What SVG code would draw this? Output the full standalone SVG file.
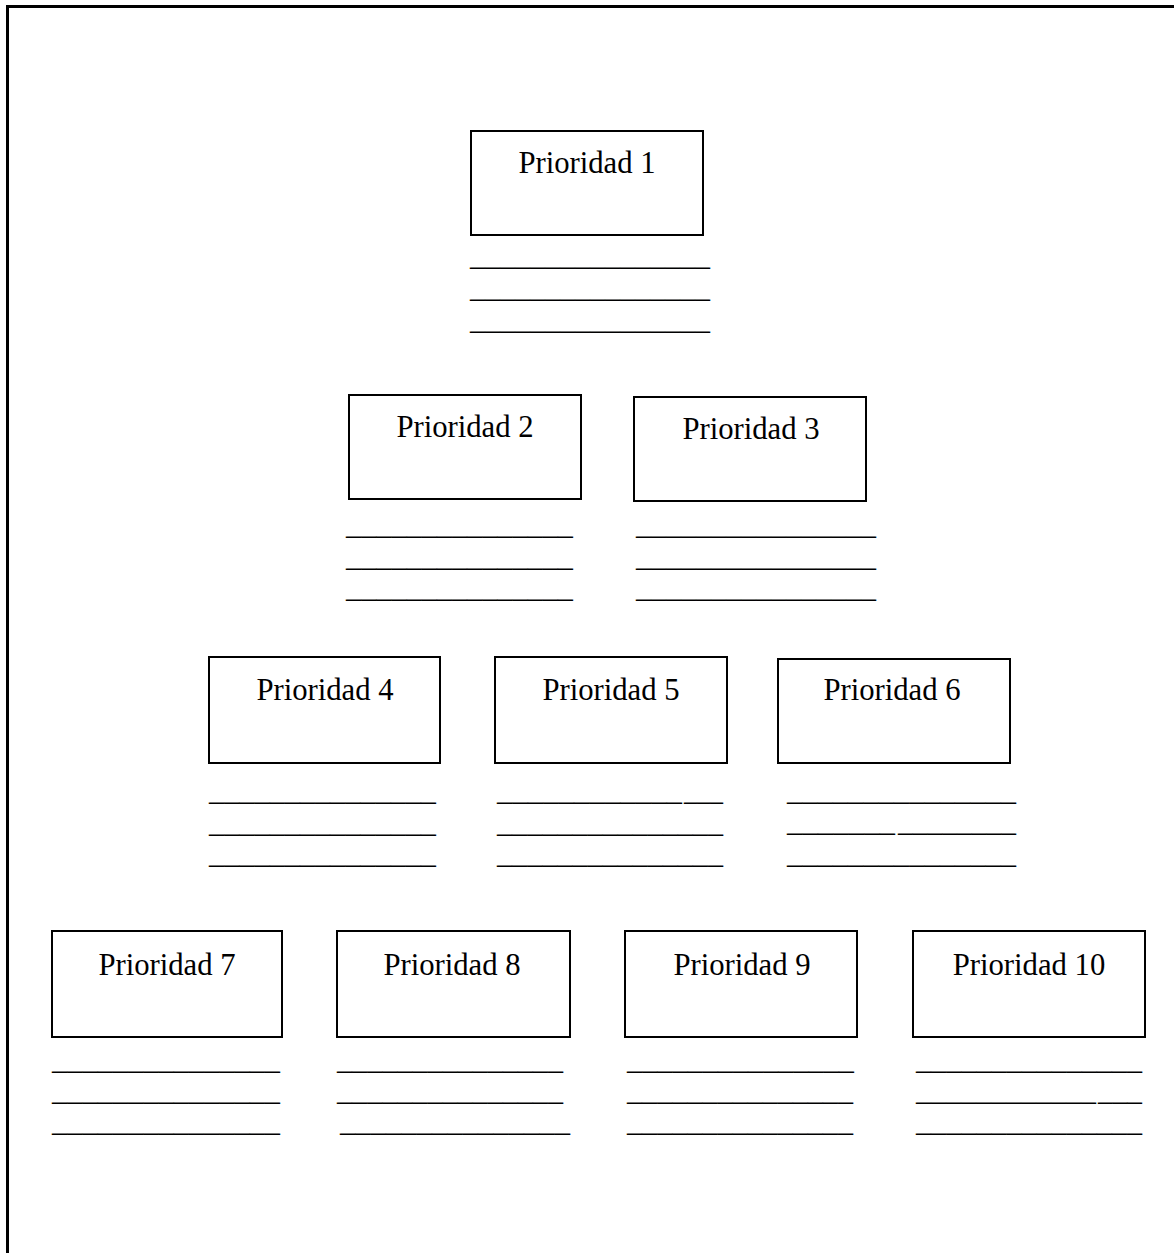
<svg xmlns="http://www.w3.org/2000/svg" width="1174" height="1253" viewBox="0 0 1174 1253">
<style>
.box{fill:#fff;stroke:#000;stroke-width:2}
.lbl{font-family:"Liberation Serif","Times New Roman",serif;font-size:30.7px;fill:#000;text-anchor:middle}
.ln{font-family:"Liberation Serif","Times New Roman",serif;font-size:30.7px;fill:#000}
.frame{fill:none;stroke:#000;stroke-width:3}
</style>
<rect width="1174" height="1253" fill="#fff"/>
<path class="frame" d="M7.5,1253 V6.5 H1174"/>
<g id="connectors"/>
<g id="p1">
<rect class="box" x="471" y="131" width="232" height="104"/>
<text class="lbl" x="587" y="173">Prioridad 1</text>
<text class="ln" x="470" y="265" textLength="240" lengthAdjust="spacingAndGlyphs">________________</text>
<text class="ln" x="470" y="297" textLength="240" lengthAdjust="spacingAndGlyphs">________________</text>
<text class="ln" x="470" y="329" textLength="240" lengthAdjust="spacingAndGlyphs">________________</text>
</g>
<g id="p2">
<rect class="box" x="349" y="395" width="232" height="104"/>
<text class="lbl" x="465" y="437">Prioridad 2</text>
<text class="ln" x="346" y="534" textLength="227" lengthAdjust="spacingAndGlyphs">_______________</text>
<text class="ln" x="346" y="566" textLength="227" lengthAdjust="spacingAndGlyphs">_______________</text>
<text class="ln" x="346" y="597" textLength="227" lengthAdjust="spacingAndGlyphs">_______________</text>
</g>
<g id="p3">
<rect class="box" x="634" y="397" width="232" height="104"/>
<text class="lbl" x="751" y="439">Prioridad 3</text>
<text class="ln" x="636" y="534" textLength="240" lengthAdjust="spacingAndGlyphs">________________</text>
<text class="ln" x="636" y="566" textLength="240" lengthAdjust="spacingAndGlyphs">________________</text>
<text class="ln" x="636" y="597" textLength="240" lengthAdjust="spacingAndGlyphs">________________</text>
</g>
<g id="p4">
<rect class="box" x="209" y="657" width="231" height="106"/>
<text class="lbl" x="325" y="700">Prioridad 4</text>
<text class="ln" x="209" y="800" textLength="227" lengthAdjust="spacingAndGlyphs">_______________</text>
<text class="ln" x="209" y="832" textLength="227" lengthAdjust="spacingAndGlyphs">_______________</text>
<text class="ln" x="209" y="863" textLength="227" lengthAdjust="spacingAndGlyphs">_______________</text>
</g>
<g id="p5">
<rect class="box" x="495" y="657" width="232" height="106"/>
<text class="lbl" x="611" y="700">Prioridad 5</text>
<text class="ln" x="497" y="800" textLength="185" lengthAdjust="spacingAndGlyphs">____________</text>
<text class="ln" x="684" y="800" textLength="39" lengthAdjust="spacingAndGlyphs">___</text>
<text class="ln" x="497" y="832" textLength="226" lengthAdjust="spacingAndGlyphs">_______________</text>
<text class="ln" x="497" y="863" textLength="226" lengthAdjust="spacingAndGlyphs">_______________</text>
</g>
<g id="p6">
<rect class="box" x="778" y="659" width="232" height="104"/>
<text class="lbl" x="892" y="700">Prioridad 6</text>
<text class="ln" x="787" y="800" textLength="229" lengthAdjust="spacingAndGlyphs">_______________</text>
<text class="ln" x="787" y="831" textLength="108" lengthAdjust="spacingAndGlyphs">_______</text>
<text class="ln" x="898" y="831" textLength="118" lengthAdjust="spacingAndGlyphs">________</text>
<text class="ln" x="787" y="863" textLength="229" lengthAdjust="spacingAndGlyphs">_______________</text>
</g>
<g id="p7">
<rect class="box" x="52" y="931" width="230" height="106"/>
<text class="lbl" x="167" y="975">Prioridad 7</text>
<text class="ln" x="52" y="1069" textLength="228" lengthAdjust="spacingAndGlyphs">_______________</text>
<text class="ln" x="52" y="1100" textLength="228" lengthAdjust="spacingAndGlyphs">_______________</text>
<text class="ln" x="52" y="1131" textLength="228" lengthAdjust="spacingAndGlyphs">_______________</text>
</g>
<g id="p8">
<rect class="box" x="337" y="931" width="233" height="106"/>
<text class="lbl" x="452" y="975">Prioridad 8</text>
<text class="ln" x="337" y="1069" textLength="226" lengthAdjust="spacingAndGlyphs">_______________</text>
<text class="ln" x="337" y="1100" textLength="226" lengthAdjust="spacingAndGlyphs">_______________</text>
<text class="ln" x="340" y="1131" textLength="230" lengthAdjust="spacingAndGlyphs">_______________</text>
</g>
<g id="p9">
<rect class="box" x="625" y="931" width="232" height="106"/>
<text class="lbl" x="742" y="975">Prioridad 9</text>
<text class="ln" x="627" y="1069" textLength="227" lengthAdjust="spacingAndGlyphs">_______________</text>
<text class="ln" x="627" y="1100" textLength="226" lengthAdjust="spacingAndGlyphs">_______________</text>
<text class="ln" x="627" y="1131" textLength="226" lengthAdjust="spacingAndGlyphs">_______________</text>
</g>
<g id="p10">
<rect class="box" x="913" y="931" width="232" height="106"/>
<text class="lbl" x="1029" y="975">Prioridad 10</text>
<text class="ln" x="916" y="1069" textLength="226" lengthAdjust="spacingAndGlyphs">_______________</text>
<text class="ln" x="916" y="1100" textLength="180" lengthAdjust="spacingAndGlyphs">____________</text>
<text class="ln" x="1098" y="1100" textLength="44" lengthAdjust="spacingAndGlyphs">___</text>
<text class="ln" x="916" y="1131" textLength="226" lengthAdjust="spacingAndGlyphs">_______________</text>
</g>
</svg>
